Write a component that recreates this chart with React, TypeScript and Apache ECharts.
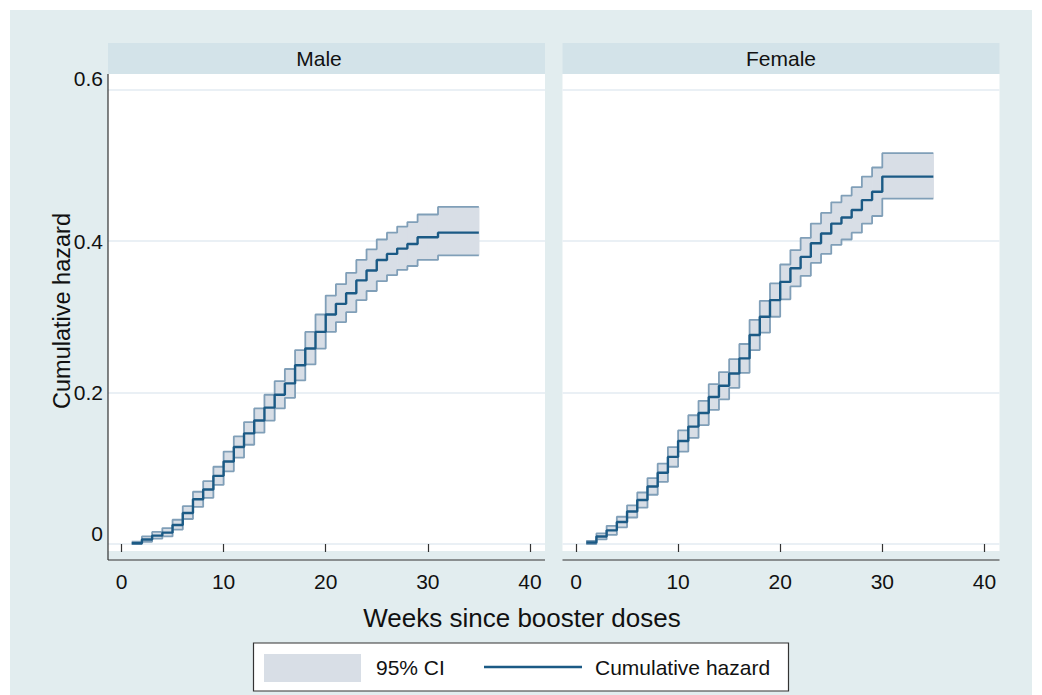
import React, { useEffect, useRef } from "react";
import * as echarts from "echarts";

// ---- data ----
const maleWeeks = [1,2,3,4,5,6,7,8,9,10,11,12,13,14,15,16,17,18,19,20,21,22,23,24,25,26,27,28,29,30,31,35];
const maleHazard = [0.001,0.006,0.011,0.015,0.025,0.041,0.059,0.072,0.090,0.109,0.128,0.146,0.163,0.180,0.197,0.212,0.236,0.258,0.280,0.303,0.317,0.331,0.348,0.361,0.375,0.383,0.390,0.396,0.405,0.405,0.411,0.411];
const maleUpper = [0.003,0.010,0.016,0.021,0.032,0.050,0.069,0.083,0.102,0.122,0.142,0.161,0.179,0.197,0.215,0.231,0.256,0.280,0.303,0.328,0.343,0.358,0.375,0.389,0.402,0.411,0.419,0.425,0.435,0.435,0.445,0.445];
const maleLower = [0.000,0.003,0.007,0.010,0.019,0.033,0.049,0.061,0.078,0.096,0.114,0.131,0.147,0.163,0.179,0.193,0.216,0.237,0.258,0.280,0.293,0.306,0.322,0.334,0.347,0.355,0.362,0.367,0.375,0.375,0.381,0.381];

const femaleWeeks = [1,2,3,4,5,6,7,8,9,10,11,12,13,14,15,16,17,18,19,20,21,22,23,24,25,26,27,28,29,30,35];
const femaleHazard = [0.002,0.010,0.018,0.029,0.043,0.058,0.076,0.094,0.115,0.136,0.155,0.173,0.194,0.209,0.225,0.245,0.276,0.300,0.322,0.346,0.364,0.379,0.397,0.410,0.423,0.431,0.441,0.454,0.465,0.485,0.485];
const femaleUpper = [0.004,0.014,0.024,0.036,0.051,0.068,0.087,0.106,0.128,0.150,0.170,0.189,0.211,0.227,0.244,0.264,0.296,0.321,0.344,0.369,0.388,0.404,0.423,0.437,0.451,0.460,0.471,0.485,0.497,0.516,0.516];
const femaleLower = [0.000,0.006,0.012,0.022,0.035,0.048,0.065,0.082,0.102,0.122,0.140,0.157,0.177,0.191,0.206,0.226,0.256,0.279,0.300,0.323,0.340,0.354,0.371,0.383,0.395,0.402,0.411,0.423,0.433,0.456,0.456];

const panelTitles = ["Male", "Female"];
const xTickValues = [0, 10, 20, 30, 40];
const yTickValues = [0, 0.2, 0.4, 0.6];
const yTickLabels = ["0", "0.2", "0.4", "0.6"];
const xTitle = "Weeks since booster doses";
const yTitle = "Cumulative hazard";
const legendLabels = ["95% CI", "Cumulative hazard"];

const FONT = "'Liberation Sans', Arial, Helvetica, sans-serif";
const BG = "#e2edef";
const HEADER = "#d3e3e9";
const LINE = "#1b5a85";
const BAND = "#d8dee6";
const BAND_EDGE = "#809fb8";

function pairs(xs: number[], ys: number[]) {
  return xs.map((x, i) => [x, ys[i]]);
}
function bandRects(xs: number[], lo: number[], hi: number[]) {
  const out: number[][] = [];
  for (let i = 0; i < xs.length - 1; i++) out.push([xs[i], xs[i + 1], lo[i], hi[i]]);
  return out;
}

export default function App() {
  const ref = useRef<HTMLDivElement>(null);
  useEffect(() => {
    const chart = echarts.init(ref.current!, null, { renderer: "svg" });
    const panels = [
      { w: maleWeeks, h: maleHazard, lo: maleLower, hi: maleUpper },
      { w: femaleWeeks, h: femaleHazard, lo: femaleLower, hi: femaleUpper },
    ];
    const panelX = [108, 562.5];
    const panelW = [437, 437];
    const plotTop = 74;
    const plotBottom = 551;
    const series: any[] = [];
    panels.forEach((p, i) => {
      series.push({
        type: "custom",
        xAxisIndex: i,
        yAxisIndex: i,
        z: 1,
        data: bandRects(p.w, p.lo, p.hi),
        encode: { x: [0, 1], y: [2, 3] },
        renderItem: (params: any, api: any) => {
          const a = api.coord([api.value(0), api.value(3)]);
          const b = api.coord([api.value(1), api.value(2)]);
          return {
            type: "rect",
            shape: { x: a[0], y: a[1], width: b[0] - a[0] + 0.6, height: b[1] - a[1] },
            style: { fill: BAND },
          };
        },
        silent: true,
      });
      [p.lo, p.hi].forEach((vals) => {
        series.push({
          type: "line",
          xAxisIndex: i,
          yAxisIndex: i,
          step: "end",
          symbol: "none",
          z: 2,
          data: pairs(p.w, vals),
          lineStyle: { color: BAND_EDGE, width: 1.8 },
        });
      });
      series.push({
        type: "line",
        xAxisIndex: i,
        yAxisIndex: i,
        step: "end",
        symbol: "none",
        z: 3,
        data: pairs(p.w, p.h),
        lineStyle: { color: LINE, width: 2.4 },
      });
    });

    const graphic: any[] = [
      { type: "rect", z: -20, shape: { x: 10, y: 10, width: 1022, height: 685 }, style: { fill: BG } },
    ];
    const titleCx = [319, 781];
    panelX.forEach((x, i) => {
      graphic.push({ type: "rect", z: -10, shape: { x, y: plotTop, width: panelW[i], height: plotBottom - plotTop }, style: { fill: "#ffffff" } });
      graphic.push({ type: "rect", z: -10, shape: { x, y: 43, width: panelW[i], height: 31 }, style: { fill: HEADER } });
      graphic.push({
        type: "text", z: 10, x: titleCx[i], y: 58,
        style: { text: panelTitles[i], fill: "#111", font: `21px ${FONT}`, textAlign: "center", textVerticalAlign: "middle" },
      });
      graphic.push({ type: "line", z: 5, shape: { x1: x, y1: 560, x2: x + panelW[i], y2: 560 }, style: { stroke: "#333", lineWidth: 1.2 } });
    });
    graphic.push({ type: "line", z: 5, shape: { x1: 108, y1: 74, x2: 108, y2: 560 }, style: { stroke: "#333", lineWidth: 1.2 } });
    graphic.push({
      type: "text", z: 10, x: 522, y: 618,
      style: { text: xTitle, fill: "#111", font: `26px ${FONT}`, textAlign: "center", textVerticalAlign: "middle" },
    });
    graphic.push({
      type: "text", z: 10, x: 62, y: 311, rotation: Math.PI / 2,
      style: { text: yTitle, fill: "#111", font: `23.5px ${FONT}`, textAlign: "center", textVerticalAlign: "middle" },
    });
    // legend box
    graphic.push({ type: "rect", z: 5, shape: { x: 253.5, y: 643, width: 535, height: 48 }, style: { fill: "#fff", stroke: "#333", lineWidth: 1.2 } });
    graphic.push({ type: "rect", z: 6, shape: { x: 264, y: 654, width: 97, height: 28 }, style: { fill: BAND } });
    graphic.push({
      type: "text", z: 6, x: 376, y: 667,
      style: { text: legendLabels[0], fill: "#111", font: `21px ${FONT}`, textAlign: "left", textVerticalAlign: "middle" },
    });
    graphic.push({ type: "line", z: 6, shape: { x1: 484, y1: 667, x2: 582, y2: 667 }, style: { stroke: LINE, lineWidth: 2.4 } });
    graphic.push({
      type: "text", z: 6, x: 595, y: 667,
      style: { text: legendLabels[1], fill: "#111", font: `21px ${FONT}`, textAlign: "left", textVerticalAlign: "middle" },
    });

    // axis scales: 0 week at panelX+13.5 px, 10.21 px per week; 0 hazard at y=544, 757.5 px per unit
    const pxPerWeek = 10.21;
    const xMin = -13.5 / pxPerWeek;
    const xMax = xMin + 437 / pxPerWeek;
    const pxPerUnit = 757.5;
    const yMin = -(plotBottom - 544) / pxPerUnit;
    const yMax = (544 - plotTop) / pxPerUnit;

    const option: any = {
      animation: false,
      backgroundColor: "#ffffff",
      grid: panelX.map((left, i) => ({ left, top: plotTop, width: panelW[i], height: plotBottom - plotTop })),
      xAxis: [0, 1].map((i) => ({
        type: "value",
        gridIndex: i,
        min: xMin,
        max: xMax,
        offset: 9,
        axisLine: { show: false },
        axisTick: { show: true, length: 8, customValues: xTickValues, lineStyle: { color: "#333", width: 1.2 } },
        axisLabel: {
          margin: 11,
          color: "#111",
          fontSize: 21,
          fontFamily: FONT,
          customValues: xTickValues,
          formatter: (v: number) => String(Math.round(v)),
        },
        splitLine: { show: false },
      })),
      yAxis: [0, 1].map((i) => ({
        type: "value",
        gridIndex: i,
        min: yMin,
        max: yMax,
        axisLine: { show: false },
        axisTick: { show: false, customValues: yTickValues },
        axisLabel: {
          show: i === 0,
          margin: 5,
          color: "#111",
          fontSize: 21,
          fontFamily: FONT,
          customValues: yTickValues,
          formatter: (v: number) => {
            const idx = Math.round(v / 0.2);
            const t = yTickLabels[idx];
            return idx === 0 || idx === 3 ? `{s|${t}}` : `{n|${t}}`;
          },
          rich: {
            s: { fontSize: 21, fontFamily: FONT, color: "#111", padding: [0, 0, 22, 0] },
            n: { fontSize: 21, fontFamily: FONT, color: "#111" },
          },
        },
        splitLine: { show: true, lineStyle: { color: "#e3ebf2", width: 1.5 } },
      })),
      series,
      graphic,
    };
    chart.setOption(option);
    return () => chart.dispose();
  }, []);
  return (
    <div
      ref={ref}
      style={{ position: "fixed", left: 0, top: 0, width: 1042, height: 695 }}
    />
  );
}
